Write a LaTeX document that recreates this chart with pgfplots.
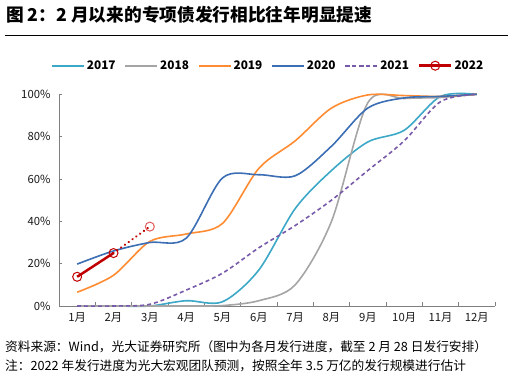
\documentclass[border=0pt]{standalone}
\usepackage{fontspec}
\setmainfont{Noto Sans CJK SC}
\usepackage{pgfplots}
\pgfplotsset{compat=1.18}
\definecolor{c17}{RGB}{60,168,200}
\definecolor{c18}{RGB}{165,165,165}
\definecolor{c19}{RGB}{255,140,50}
\definecolor{c20}{RGB}{60,110,180}
\definecolor{c21}{RGB}{120,90,170}
\definecolor{c22}{RGB}{192,0,0}
\definecolor{c22l}{RGB}{225,90,90}
\definecolor{axc}{RGB}{128,128,128}
\begin{document}
\begin{tikzpicture}[x=1pt,y=1pt]
\path[use as bounding box] (0,0) rectangle (512,377);
\node[anchor=west, inner sep=0pt, font=\fontsize{17.7}{21}\selectfont\bfseries] at (6,362) {图 2：2 月以来的专项债发行相比往年明显提速};
\draw[line width=1pt] (5,341) -- (508,341);
\node[anchor=west, inner sep=0pt, font=\fontsize{12.7}{15}\selectfont] at (5,30) {资料来源：Wind，光大证券研究所（图中为各月发行进度，截至 2 月 28 日发行安排）};
\node[anchor=west, inner sep=0pt, font=\fontsize{12.7}{15}\selectfont] at (5,11) {注：2022 年发行进度为光大宏观团队预测，按照全年 3.5 万亿的发行规模进行估计};
\begin{axis}[
  at={(59pt,71pt)}, anchor=south west, scale only axis,
  width=436pt, height=211.7pt,
  xmin=0.5, xmax=12.5, ymin=0, ymax=100,
  axis lines=left, axis line style={-, color=axc, line width=0.8pt},
  xtick={1,...,12},
  xticklabels={1月,2月,3月,4月,5月,6月,7月,8月,9月,10月,11月,12月},
  minor xtick={0.5,1.5,...,12.5},
  major x tick style={draw=none},
  minor x tick style={color=axc, line width=0.8pt},
  y tick style={color=axc, line width=0.8pt},
  tick align=inside, major tick length=2.5pt, minor tick length=4pt,
  ytick={0,20,40,60,80,100},
  yticklabels={0\%,20\%,40\%,60\%,80\%,100\%},
  ticklabel style={font=\fontsize{11.3}{13}\selectfont, text=black!90},
  yticklabel style={anchor=east, xshift=-5pt},
  xticklabel style={yshift=-3pt},
  clip=false,
  legend columns=6,
  legend style={at={(0.48,1.135)}, anchor=center, draw=none, fill=none,
    font=\fontsize{11.8}{13}\selectfont\bfseries,
    /tikz/every even column/.append style={column sep=7pt}},
  legend image code/.code={\draw[mark repeat=2,mark phase=2,#1] plot coordinates {(0pt,0pt) (16pt,0pt) (32pt,0pt)};},
]
\addplot[color=c17, line width=1.6pt, smooth, no markers] coordinates {(1,0) (2,0) (3,0) (4,2.5) (5,2) (6,17) (7,46) (8,64) (9,77.5) (10,83) (11,99) (12,100)};
\addlegendentry{2017}
\addplot[color=c18, line width=1.6pt, smooth, no markers] coordinates {(1,0) (2,0) (3,0) (4,0) (5,0.2) (6,2.5) (7,10) (8,40) (9,96) (10,98) (11,98.5) (12,100)};
\addlegendentry{2018}
\addplot[color=c19, line width=1.6pt, smooth, no markers] coordinates {(1,6.5) (2,14.5) (3,30.5) (4,34) (5,39) (6,65) (7,78) (8,93.5) (9,99.7) (10,99.4) (11,99) (12,100)};
\addlegendentry{2019}
\addplot[color=c20, line width=1.6pt, smooth, no markers] coordinates {(1,19.8) (2,26) (3,30) (4,32) (5,60.5) (6,62) (7,61.5) (8,75.5) (9,93.5) (10,98.3) (11,99) (12,100)};
\addlegendentry{2020}
\addplot[color=c21, line width=1.6pt, smooth, no markers, dash pattern=on 4pt off 3pt] coordinates {(1,0) (2,0) (3,0.8) (4,7.5) (5,15.5) (6,27.5) (7,38) (8,50) (9,64) (10,78) (11,96.5) (12,100)};
\addlegendentry{2021}
\addplot[color=c22, line width=2.4pt, line cap=round, dash pattern=on 0.1pt off 4.6pt, mark=o, mark indices={2}, mark size=4.5pt, mark options={solid, draw=c22l, fill=white, line width=1pt}, forget plot] coordinates {(2,25) (3,37.5)};
\addplot[color=c22, line width=2.5pt, mark=o, mark size=4.5pt, mark options={solid, draw=c22, fill=white, line width=1pt}] coordinates {(1,13.8) (2,25)};
\addlegendentry{2022}
\end{axis}
\end{tikzpicture}
\end{document}
